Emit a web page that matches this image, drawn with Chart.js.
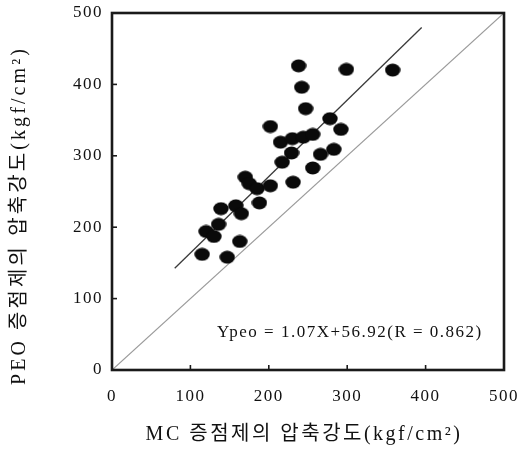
<!DOCTYPE html>
<html><head><meta charset="utf-8">
<script src="https://cdn.jsdelivr.net/npm/chart.js@4.4.0/dist/chart.umd.min.js"></script>
<style>html,body{margin:0;padding:0;background:#fff;}#wrap{width:526px;height:452px;}</style>
</head><body><div id="wrap"><canvas id="c" width="526" height="452"></canvas></div>
<script>
// MC (x) vs PEO (y) compressive strength, kgf/cm2
const mcStrength  = [238,299,358,242,247,278,292,202,215,230,244,256,229,217,266,283,256,170,175,185,202,231,188,139,158,165,136,120,130,163,115,147];
const peoStrength = [426,421,420,396,366,352,337,341,319,324,326,330,304,291,302,309,283,270,261,254,258,263,234,226,230,219,204,194,187,180,162,158];
const fitSlope = 1.07;
const fitIntercept = 56.92;
const fitRange = [80, 395];
const equalityRange = [0, 500];
const axisTicks = [0, 100, 200, 300, 400, 500];
const xTitle = 'MC 증점제의 압축강도(kgf/cm²)';
const yTitle = 'PEO 증점제의 압축강도(kgf/cm²)';
const equationText = 'Ypeo = 1.07X+56.92(R = 0.862)';
const equationAt = [134, 52];

const serif = '"Liberation Serif", "Noto Sans CJK KR", serif';

const scatterPts = mcStrength.map((v, i) => ({x: v, y: peoStrength[i]}));
const fitPts = fitRange.map(v => ({x: v, y: fitSlope * v + fitIntercept}));
const eqPts = equalityRange.map(v => ({x: v, y: v}));

// elliptical blot marker
const dot = document.createElement('canvas');
dot.width = 16; dot.height = 14;
(function(){ const g = dot.getContext('2d'); g.fillStyle = '#0a0a0a'; g.beginPath(); g.ellipse(8, 7, 7.7, 6.4, 0, 0, Math.PI*2); g.fill(); })();

function noPad(s){ s.paddingTop = 0; s.paddingBottom = 0; s.paddingLeft = 0; s.paddingRight = 0; }

const decor = {
  id: 'decor',
  beforeLayout(chart){ chart.ctx.letterSpacing = '1.5px'; },
  beforeDraw(chart){ chart.ctx.letterSpacing = '1.5px'; },
  afterDraw(chart){
    const {ctx, chartArea: a, scales: {x, y}} = chart;
    ctx.save();
    ctx.strokeStyle = '#1a1a1a';
    ctx.lineWidth = 2.6;
    ctx.strokeRect(a.left, a.top, a.right - a.left, a.bottom - a.top);
    ctx.lineWidth = 1.6;
    axisTicks.slice(1, -1).forEach(v => {
      const px = x.getPixelForValue(v);
      ctx.beginPath(); ctx.moveTo(px, a.bottom); ctx.lineTo(px, a.bottom - 5); ctx.stroke();
      const py = y.getPixelForValue(v);
      ctx.beginPath(); ctx.moveTo(a.left, py); ctx.lineTo(a.left + 5, py); ctx.stroke();
    });
    ctx.fillStyle = '#111';
    ctx.textBaseline = 'middle';
    ctx.letterSpacing = '1.5px';
    ctx.font = '17px ' + serif;
    ctx.textAlign = 'left';
    ctx.fillText(equationText, x.getPixelForValue(equationAt[0]), y.getPixelForValue(equationAt[1]));
    ctx.font = '20px ' + serif;
    ctx.textAlign = 'center';
    ctx.letterSpacing = '2.5px';
    ctx.fillText(xTitle, (a.left + a.right) / 2 - 4, a.bottom + 65);
    ctx.letterSpacing = '3.1px';
    ctx.translate(20, (a.top + a.bottom) / 2 + 24);
    ctx.rotate(-Math.PI / 2);
    ctx.fillText(yTitle, 0, 0);
    ctx.restore();
  }
};

new Chart(document.getElementById('c'), {
  type: 'scatter',
  data: {
    datasets: [
      {data: scatterPts, pointStyle: dot, pointRadius: 7, pointHoverRadius: 7},
      {type: 'line', data: fitPts, borderColor: '#3a3a3a', borderWidth: 1.3, pointRadius: 0, fill: false},
      {type: 'line', data: eqPts, borderColor: '#9a9a9a', borderWidth: 1.2, pointRadius: 0, fill: false}
    ]
  },
  options: {
    responsive: false,
    devicePixelRatio: 1,
    animation: false,
    layout: {padding: {left: 0, right: 22, top: 13, bottom: 0}},
    plugins: {legend: {display: false}, tooltip: {enabled: false}},
    scales: {
      x: {
        type: 'linear', min: 0, max: 500,
        afterBuildTicks(s){ s.ticks = axisTicks.map(v => ({value: v})); },
        afterFit(s){ s.height = 82; noPad(s); },
        grid: {display: false, drawTicks: false},
        border: {display: false},
        ticks: {padding: 16, color: '#111', font: {family: serif, size: 17}, maxRotation: 0}
      },
      y: {
        type: 'linear', min: 0, max: 500,
        afterBuildTicks(s){ s.ticks = axisTicks.map(v => ({value: v})); },
        afterFit(s){ s.width = 112; noPad(s); },
        grid: {display: false, drawTicks: false},
        border: {display: false},
        ticks: {padding: 9, color: '#111', font: {family: serif, size: 17}}
      }
    }
  },
  plugins: [decor]
});
</script></body></html>
